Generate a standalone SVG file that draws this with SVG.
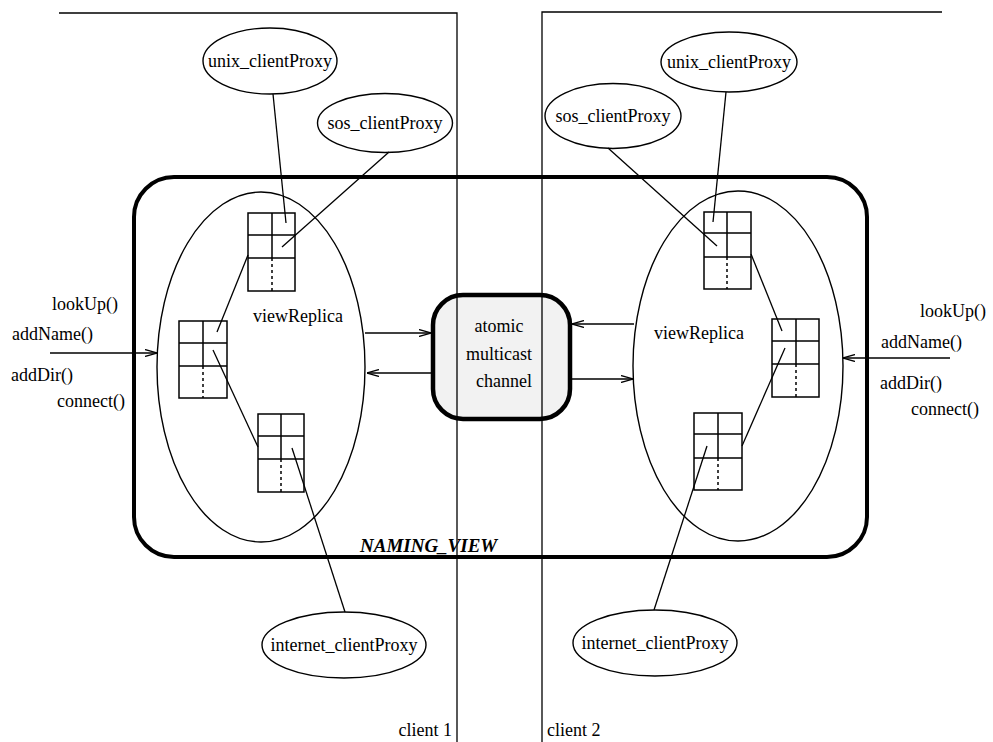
<svg xmlns="http://www.w3.org/2000/svg" width="993" height="742" viewBox="0 0 993 742">
<style>
text{font-family:"Liberation Serif","Times New Roman",serif;font-size:18px;fill:#000}
.thin{stroke:#000;stroke-width:1.3;fill:none}
.tbl{stroke:#000;stroke-width:1.5;fill:none}
.dot{stroke:#000;stroke-width:1.5;stroke-dasharray:3,3;fill:none}
.ell{stroke:#000;stroke-width:1.4;fill:none}
</style>
<defs>
<marker id="arr" viewBox="0 0 12 8" refX="12" refY="4" markerWidth="12" markerHeight="8" markerUnits="userSpaceOnUse" orient="auto">
<path d="M0,0.5 L12,4 L0,7.5" fill="none" stroke="#000" stroke-width="1.3"/>
</marker>
</defs>
<rect width="993" height="742" fill="#fff"/>

<g id="naming_view">
<rect x="134" y="177" width="733" height="380" rx="40" ry="40" fill="none" stroke="#000" stroke-width="4"/>
<text x="360" y="552" style="font-weight:bold;font-style:italic;font-size:19px">NAMING_VIEW</text>
</g>

<g id="channel">
<rect x="433" y="295" width="137" height="124" rx="30" ry="30" fill="#f2f2f2" stroke="#000" stroke-width="4.5"/>
<text x="499" y="332" text-anchor="middle">atomic</text>
<text x="499" y="360" text-anchor="middle">multicast</text>
<text x="504" y="387" text-anchor="middle">channel</text>
</g>

<g id="clients">
<path class="thin" d="M59,13 H457 V742"/>
<path class="thin" d="M942,12 H542 V742"/>
<text x="452" y="736" text-anchor="end">client 1</text>
<text x="547" y="736">client 2</text>
</g>

<g id="viewReplica1">
<ellipse class="ell" cx="261" cy="367" rx="104" ry="175"/>
<text x="253" y="322">viewReplica</text>
</g>
<g id="viewReplica2">
<ellipse class="ell" cx="738" cy="366" rx="105" ry="175"/>
<text x="654" y="339">viewReplica</text>
</g>

<g id="table_l1">
<rect class="tbl" x="248" y="213" width="47" height="78"/>
<path class="tbl" d="M248,235 H295 M248,258 H295 M272,213 V258"/>
<path class="dot" d="M272,258 V291"/>
</g>
<g id="table_l2">
<rect class="tbl" x="179" y="321" width="48" height="77"/>
<path class="tbl" d="M179,343 H227 M179,366 H227 M203,321 V366"/>
<path class="dot" d="M203,366 V398"/>
</g>
<g id="table_l3">
<rect class="tbl" x="258" y="414" width="46" height="78"/>
<path class="tbl" d="M258,436 H304 M258,459 H304 M281,414 V459"/>
<path class="dot" d="M281,459 V492"/>
</g>
<g id="table_r1">
<rect class="tbl" x="704" y="212" width="47" height="77"/>
<path class="tbl" d="M704,233 H751 M704,257 H751 M727,212 V257"/>
<path class="dot" d="M727,257 V289"/>
</g>
<g id="table_r2">
<rect class="tbl" x="772" y="319" width="47" height="78"/>
<path class="tbl" d="M772,341 H819 M772,364 H819 M796,319 V364"/>
<path class="dot" d="M796,364 V397"/>
</g>
<g id="table_r3">
<rect class="tbl" x="694" y="413" width="48" height="77"/>
<path class="tbl" d="M694,434 H742 M694,458 H742 M718,413 V458"/>
<path class="dot" d="M718,458 V490"/>
</g>

<g id="unix_l">
<ellipse class="ell" cx="270" cy="61" rx="67" ry="33"/>
<text x="270" y="67" text-anchor="middle">unix_clientProxy</text>
</g>
<g id="sos_l">
<ellipse class="ell" cx="385" cy="123" rx="67.5" ry="29.5"/>
<text x="385" y="129" text-anchor="middle">sos_clientProxy</text>
</g>
<g id="internet_l">
<ellipse class="ell" cx="344" cy="645" rx="82" ry="33"/>
<text x="344" y="651" text-anchor="middle">internet_clientProxy</text>
</g>
<g id="unix_r">
<ellipse class="ell" cx="729" cy="62" rx="68" ry="30"/>
<text x="729" y="68" text-anchor="middle">unix_clientProxy</text>
</g>
<g id="sos_r">
<ellipse class="ell" cx="613" cy="116" rx="68" ry="32.5"/>
<text x="613" y="122" text-anchor="middle">sos_clientProxy</text>
</g>
<g id="internet_r">
<ellipse class="ell" cx="655" cy="643" rx="82" ry="33"/>
<text x="655" y="649" text-anchor="middle">internet_clientProxy</text>
</g>

<g id="ops_l">
<text x="118" y="310" text-anchor="end">lookUp()</text>
<text x="12" y="340">addName()</text>
<text x="11" y="381">addDir()</text>
<text x="125" y="407" text-anchor="end">connect()</text>
</g>
<g id="ops_r">
<text x="920" y="317">lookUp()</text>
<text x="881" y="348">addName()</text>
<text x="880" y="389">addDir()</text>
<text x="911" y="415">connect()</text>
</g>

<g id="connectors">
<path class="thin" d="M273,94 L286,223"/>
<path class="thin" d="M389,152 L282,247"/>
<path class="thin" d="M248,255 L217,332"/>
<path class="thin" d="M213,350 L258,447"/>
<path class="thin" d="M292,448 L345,612"/>
<path class="thin" d="M726,92 L713,222"/>
<path class="thin" d="M608,148 L717,246"/>
<path class="thin" d="M751,254 L782,331"/>
<path class="thin" d="M785,348 L742,446"/>
<path class="thin" d="M707,446 L654,610"/>
<path class="thin" d="M365,333 H431" marker-end="url(#arr)"/>
<path class="thin" d="M432,373 H367" marker-end="url(#arr)"/>
<path class="thin" d="M634,324 H572" marker-end="url(#arr)"/>
<path class="thin" d="M571,379 H633" marker-end="url(#arr)"/>
<path class="thin" d="M50,353 H157" marker-end="url(#arr)"/>
<path class="thin" d="M950,358 H843" marker-end="url(#arr)"/>
</g>
</svg>
